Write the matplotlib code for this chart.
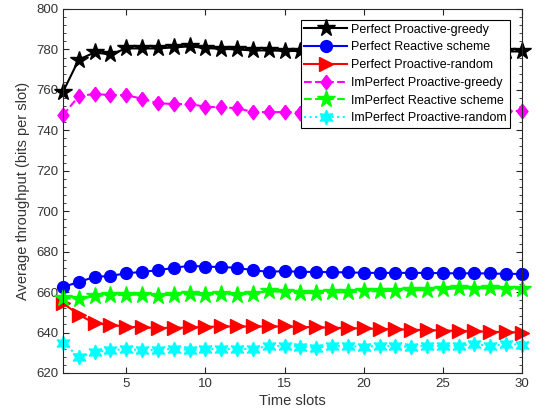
import numpy as np
import matplotlib.pyplot as plt
from matplotlib.ticker import MultipleLocator

plt.rcParams['font.family'] = ['Liberation Sans', 'DejaVu Sans']

slots = np.arange(1, 31)

perfect_greedy = [759, 775, 778.5, 777.5, 780.5, 780.5, 780.5, 781, 781.5, 780.7,
                  780.3, 780, 779.5, 779.5, 779.3, 779.2, 779, 779, 779, 779,
                  779, 779, 779, 779, 779, 779, 779, 779, 779, 779]
perfect_reactive = [662.5, 665, 667.5, 668, 669.3, 670, 670.8, 672, 673, 672.6,
                    672.4, 672, 670.8, 670, 670.4, 670, 670, 669.8, 669.8, 669.5,
                    669.5, 669.5, 669.5, 669.5, 669.3, 669.3, 669.3, 669.2, 669, 669]
perfect_random = [654.5, 648.8, 644.6, 643.8, 642.9, 642.5, 642.3, 642.3, 642.5, 642.8,
                  643, 643, 643, 643, 643, 642.8, 642.6, 642.4, 642.2, 642,
                  641.8, 641.6, 641.4, 641.2, 641, 640.8, 640.6, 640.4, 640.2, 640]
imperfect_greedy = [747.5, 756.9, 758, 757.4, 757.4, 755.6, 753.4, 753, 753, 751.7,
                    751.3, 751, 749, 749, 749, 748.8, 748.8, 748.8, 748.9, 749,
                    749, 749, 749.1, 749.2, 749.2, 749.3, 749.4, 749.5, 749.5, 749.6]
imperfect_reactive = [657, 656.5, 658, 658.5, 658.7, 658.7, 658.3, 658.7, 659, 658.5,
                      659.3, 658.7, 659.3, 660.5, 660, 659.5, 659.5, 659.8, 660, 660.3,
                      660.5, 660.7, 661, 661, 661.3, 662, 661.7, 662, 661.7, 661.7]
imperfect_random = [635, 628, 630.2, 631.4, 631.7, 631.4, 631.4, 632, 631.4, 631.7,
                    632, 631.7, 632.1, 633.2, 633.5, 633, 632.4, 633.5, 633.2, 633,
                    633.5, 633.2, 633, 633.5, 633.2, 633.5, 634.2, 633.5, 634.2, 634]

fig = plt.figure(figsize=(5.36, 4.18), dpi=100)
ax = fig.add_axes([0.1175, 0.1077, 0.8563, 0.8708])

star6 = (6, 1, 0)
diamond = [(0, 1), (0.75, 0), (0, -1), (-0.75, 0), (0, 1)]
kw = dict(lw=1.5, clip_on=False)
ax.plot(slots, perfect_greedy, '-', color='k', marker='*', ms=13, label='Perfect Proactive-greedy', **kw)
ax.plot(slots, perfect_reactive, '-', color='b', marker='o', ms=8.5, label='Perfect Reactive scheme', **kw)
ax.plot(slots, perfect_random, '-', color='r', marker='>', ms=9.5, label='Perfect Proactive-random', **kw)
ax.plot(slots, imperfect_greedy, '--', color='#ff00ff', marker=diamond, ms=10.5, label='ImPerfect Proactive-greedy', **kw)
ax.plot(slots, imperfect_reactive, '--', color='#00ff00', marker='*', ms=13, label='ImPerfect Reactive scheme', **kw)
ax.plot(slots, imperfect_random, ':', color='#00ffff', marker=star6, ms=10.5, label='ImPerfect Proactive-random', **kw)

ax.set_xlim(1, 30)
ax.set_ylim(620, 800)
ax.set_xticks([5, 10, 15, 20, 25, 30])
ax.yaxis.set_major_locator(MultipleLocator(20))
ax.yaxis.set_minor_locator(MultipleLocator(4))
ax.tick_params(which='both', direction='in', top=True, right=True, labelsize=9.5,
               colors='#262626', labelcolor='#333333')
ax.tick_params(which='major', length=4)
ax.tick_params(which='minor', length=2)
for s in ax.spines.values():
    s.set_color('#262626')
    s.set_linewidth(0.8)

ax.set_xlabel('Time slots', fontsize=10.5, color='#333333', labelpad=3)
ax.set_ylabel('Average throughput (bits per slot)', fontsize=10.5, color='#333333')

leg = ax.legend(loc='upper right', fontsize=9, handlelength=3.4, frameon=True, fancybox=False,
                framealpha=1, borderpad=0.3, labelspacing=0.46, handletextpad=0.3,
                borderaxespad=0, bbox_to_anchor=(0.974, 0.970))
leg.get_frame().set_edgecolor('k')
leg.get_frame().set_linewidth(0.8)
leg.set_zorder(10)

fig.savefig('out.png', dpi=100)
